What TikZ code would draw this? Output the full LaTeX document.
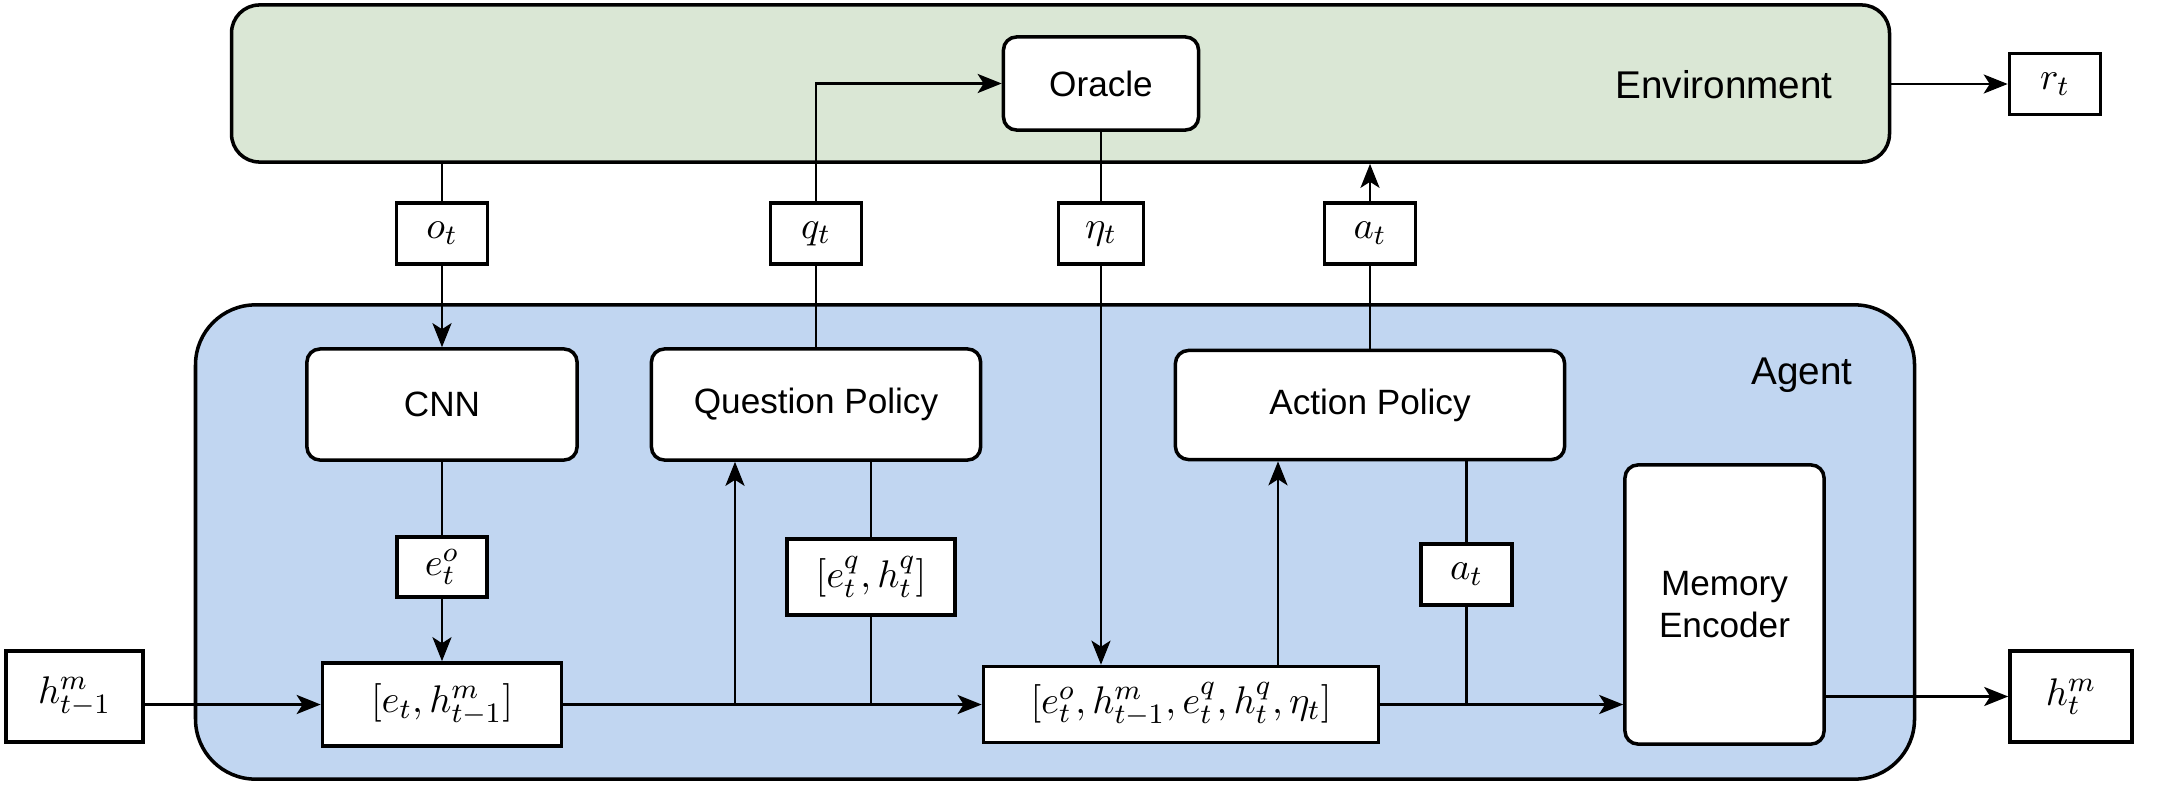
\documentclass[tikz,border=0pt]{standalone}
\usepackage{amsmath}
\usepackage{fontspec}
\setmainfont{Liberation Sans}
\usetikzlibrary{positioning,arrows.meta}

\definecolor{envgreen}{HTML}{DAE7D5}
\definecolor{agentblue}{HTML}{C1D6F1}

\tikzset{
	block/.style={draw,line width=1pt,fill=white,rounded corners=0.13cm,align=center,font=\fontsize{10}{12}\selectfont},
	var/.style={draw,line width=1pt,fill=white,inner sep=0pt,font=\fontsize{11}{13}\selectfont},
	region/.style={draw,line width=1pt},
}

\begin{document}
\begin{tikzpicture}[x=0.01cm,y=-0.01cm,line width=0.8pt,>={Stealth[length=0.24cm,width=0.19cm,inset=0.06cm]}]
	      		\useasboundingbox (0,0) rectangle (2167,788);
	      		% the two regions
	      		\node[region,fill=envgreen,rounded corners=0.28cm,minimum width=16.57cm,minimum height=1.57cm] (env) at (1060.5,83.5) {};
	      		\node[region,fill=agentblue,rounded corners=0.6cm,minimum width=17.18cm,minimum height=4.74cm] (agent) at (1055,542) {};
	      		\node[font=\fontsize{11}{13}\selectfont] (envlabel) at (1724,85) {Environment};
	      		\node[font=\fontsize{11}{13}\selectfont] (agentlabel) at (1802,375) {Agent};
	      		
	      		\node[block,minimum width=1.95cm,minimum height=0.93cm] (oracle) at (1101,83.5) {Oracle};
	      		\node[block,minimum width=2.7cm,minimum height=1.11cm] (cnn) at (442,404.5) {CNN};
	      		\node[block,minimum width=3.29cm,minimum height=1.11cm] (qp) at (816,404.5) {Question Policy};
	      		\node[block,minimum width=3.89cm,minimum height=1.09cm] (ap) at (1370,405) {Action Policy};
	      		\node[block,minimum width=1.99cm,minimum height=2.79cm] (mem) at (1724.5,604.5) {Memory\\Encoder};
	      		
	      		\node[var,minimum width=0.91cm,minimum height=0.61cm] (ot) at (442,233.5) {$o_t$};
	      		\node[var,minimum width=0.91cm,minimum height=0.61cm] (qt) at (816,233.5) {$q_t$};
	      		\node[var,minimum width=0.85cm,minimum height=0.61cm] (etat) at (1101,233.5) {$\eta_t$};
	      		\node[var,minimum width=0.91cm,minimum height=0.61cm] (at1) at (1370,233.5) {$a_t$};
	      		\node[var,minimum width=0.91cm,minimum height=0.61cm] (rt) at (2055,84) {$r_t$};
	      		\node[var,minimum width=0.9cm,minimum height=0.6cm] (eto) at (442,567) {$e_t^o$};
	      		\node[var,minimum width=1.68cm,minimum height=0.76cm] (etq) at (871,577) {$[e_t^q,h_t^q]$};
	      		\node[var,minimum width=0.91cm,minimum height=0.61cm] (at2) at (1466.5,574.5) {$a_t$};
	      		\node[var,minimum width=2.39cm,minimum height=0.83cm] (cat1) at (442,704.5) {$[e_t,h_{t-1}^m]$};
	      		\node[var,minimum width=3.95cm,minimum height=0.76cm] (cat2) at (1181,704.5) {$[e_t^o,h_{t-1}^m,e_t^q,h_t^q,\eta_t]$};
	      		\node[var,minimum width=1.37cm,minimum height=0.91cm] (hprev) at (74.5,696.5) {$h_{t-1}^m$};
	      		\node[var,minimum width=1.22cm,minimum height=0.91cm] (ht) at (2071,696.5) {$h_t^m$};
	      		
	      		\coordinate (qpin) at (735,704.5);
	      		\coordinate (apin) at (1278,704.5);
	      		
	      		% environment side
	      		\draw (ot |- env.south) -- (ot);
	      		\draw[->] (ot) -- (cnn);
	      		\draw (qp) -- (qt);
	      		\draw[->] (qt) |- (oracle.west);
	      		\draw (oracle) -- (etat);
	      		\draw[->] (etat) -- (etat |- cat2.north);
	      		\draw (ap.north -| at1) -- (at1);
	      		\draw[->] (at1) -- (at1 |- env.south);
	      		\draw[->] (env.east |- rt) -- (rt);
	      		
	      		% agent side
	      		\draw (cnn) -- (eto);
	      		\draw[->] (eto) -- (cat1);
	      		\draw[->] (hprev.east |- cat1) -- (cat1);
	      		\draw[->] (cat1) -- (cat2);
	      		\draw[->] (qpin) -- (qpin |- qp.south);
	      		\draw (qp.south -| etq) -- (etq) -- (etq |- cat1);
	      		\draw[->] (apin |- cat2.north) -- (apin |- ap.south);
	      		\draw (ap.south -| at2) -- (at2) -- (at2 |- cat2);
	      		\draw[->] (cat2) -- (cat2 -| mem.west);
	      		\draw[->] (mem.east |- ht) -- (ht);
	      	\end{tikzpicture}
\end{document}
